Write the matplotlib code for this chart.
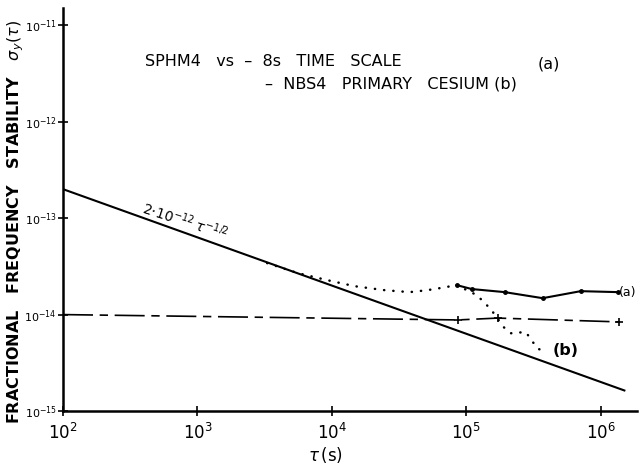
import matplotlib
matplotlib.use("Agg")
import matplotlib.pyplot as plt
import numpy as np

# ---- data ----
tau_a_dot = [3.3e3, 5.6e3, 9.2e3, 1.48e4, 2.48e4, 3.8e4, 5.1e4, 6.35e4, 8.5e4]
sig_a_dot = [3.42e-14, 2.69e-14, 2.28e-14, 1.97e-14, 1.79e-14, 1.71e-14, 1.79e-14, 1.88e-14, 2.02e-14]

tau_a = [8.5e4, 1.10e5, 1.93e5, 3.70e5, 7.10e5, 1.34e6]
sig_a = [2.02e-14, 1.84e-14, 1.71e-14, 1.48e-14, 1.75e-14, 1.71e-14]

tau_b = [8.5e4, 1.20e5, 1.52e5, 1.90e5, 2.14e5, 2.77e5, 3.40e5, 4.04e5]
sig_b = [2.02e-14, 1.59e-14, 1.14e-14, 7.4e-15, 6.4e-15, 6.6e-15, 4.4e-15, 4.2e-15]

tau_ref = [1e2, 8.65e4, 1.71e5, 1.36e6]
sig_ref = [1.0e-14, 8.8e-15, 9.2e-15, 8.4e-15]

tau_fit = [1e2, 1.5e6]
fit_coef = 2e-12
fit_exp = -0.5

xticks = [1e2, 1e3, 1e4, 1e5, 1e6]
xticklabels = [r"$10^{2}$", r"$10^{3}$", r"$10^{4}$", r"$10^{5}$", r"$10^{6}$"]
yticks = [1e-15, 1e-14, 1e-13, 1e-12, 1e-11]
yticklabels = [r"$10^{-15}$", r"$10^{-14}$", r"$10^{-13}$", r"$10^{-12}$", r"$10^{-11}$"]

plt.rcParams['font.family'] = ['DejaVu Sans']
plt.rcParams['mathtext.fontset'] = 'dejavusans'

fig = plt.figure(figsize=(6.39, 4.65), dpi=100)
ax = fig.add_axes([63/639, (465-411)/465, 574/639, 403/465])
ax.set_xscale('log')
ax.set_yscale('log')
ax.set_xlim(1e2, 10**6.27)
ax.set_ylim(1e-15, 10**-10.82)

# fit line
tf = np.array(tau_fit)
ax.plot(tf, fit_coef * tf**fit_exp, color='black', lw=1.5)

# dotted (a) part
ax.plot(tau_a_dot, sig_a_dot, color='black', lw=1.8,
        linestyle=(0, (0.1, 3.6)), dash_capstyle='round')
# solid (a)
ax.plot(tau_a, sig_a, color='black', lw=1.5, marker='o', ms=2.5)
# dotted (b)
ax.plot(tau_b, sig_b, color='black', lw=1.8,
        linestyle=(0, (0.1, 3.6)), dash_capstyle='round')
# dash-dot reference line
ax.plot(tau_ref, sig_ref, color='black', lw=1.2, linestyle=(0, (18, 4, 5, 4)))
ax.plot(tau_ref[1:], sig_ref[1:], color='black', lw=0, marker='+', ms=6, mew=1.2)

for s in ['top', 'right']:
    ax.spines[s].set_visible(False)
for s in ['left', 'bottom']:
    ax.spines[s].set_linewidth(1.8)

ax.minorticks_off()
ax.set_xticks(xticks)
ax.set_xticklabels(xticklabels, fontsize=12)
ax.set_yticks(yticks)
ax.set_yticklabels(yticklabels, fontsize=8)
ax.tick_params(axis='both', direction='inout', length=7, width=1.2)
ax.tick_params(axis='x', pad=5)
ax.tick_params(axis='y', pad=1)

# labels
fig.text(325/639, 1 - 455/465, r"$\tau\,$(s)", fontsize=12, ha='center', va='center')
fig.text(16/639, 1 - 222/465,
         r"FRACTIONAL   FREQUENCY   STABILITY   $\sigma_y(\tau)$",
         rotation=90, fontsize=11.5, fontweight='bold', ha='center', va='center')

# title text
fig.text(145/639, 1 - 62/465, "SPHM4   vs  –  8s   TIME   SCALE", fontsize=11.5,
         ha='left', va='center')
fig.text(538/639, 1 - 64/465, "(a)", fontsize=11.5, ha='left', va='center')
fig.text(265/639, 1 - 84/465, "–  NBS4   PRIMARY   CESIUM (b)", fontsize=11.5,
         ha='left', va='center')

# line label
ax.text(10**2.57, 1.05e-13, r"$2{\cdot}10^{-12}\;\tau^{-1/2}$", fontsize=10,
        rotation=-18, rotation_mode='anchor', ha='left', va='bottom')

# series labels
ax.text(1.37e6, 1.71e-14, "(a)", fontsize=9, ha='left', va='center')
ax.text(4.4e5, 4.2e-15, "(b)", fontsize=11.5, fontweight='bold', ha='left', va='center')

fig.savefig("out.png", dpi=100)
